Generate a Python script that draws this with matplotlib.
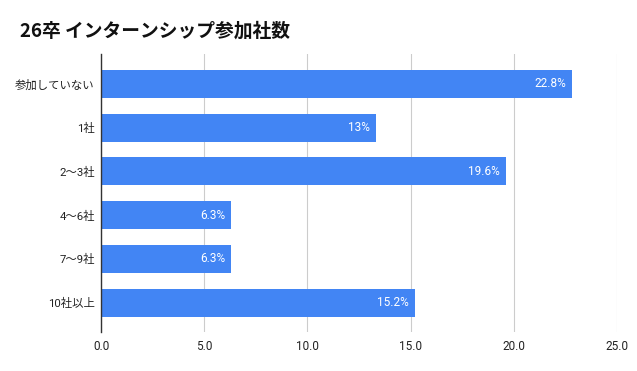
import matplotlib
matplotlib.use("Agg")
import matplotlib.pyplot as plt

plt.rcParams['font.family'] = ['Roboto', 'Noto Sans CJK JP', 'DejaVu Sans']

title = "26卒 インターンシップ参加社数"
categories = ["参加していない", "1社", "2〜3社", "4〜6社", "7〜9社", "10社以上"]
values = [22.8, 13.3, 19.6, 6.3, 6.3, 15.2]
value_labels = ["22.8%", "13%", "19.6%", "6.3%", "6.3%", "15.2%"]
xticks = [0, 5, 10, 15, 20, 25]
xtick_labels = ["0.0", "5.0", "10.0", "15.0", "20.0", "25.0"]

fig = plt.figure(figsize=(6.37, 3.71), dpi=100)
ax = fig.add_axes([101/637, 1-332/371, 516/637, 278/371])

ypos = list(range(len(categories)))
bars = ax.barh(ypos, values, height=0.64, color="#4285F4", zorder=3)
ax.set_ylim(len(categories) - 1 + 0.67, -0.68)
ax.set_xlim(0, 25)
ax.set_yticks(ypos)
ax.set_yticklabels(categories, fontsize=8.2, color="#222222")
ax.set_xticks(xticks)
ax.set_xticklabels(xtick_labels, fontsize=8.5, color="#222222")
ax.tick_params(axis='y', length=0, pad=4.5)
ax.tick_params(axis='x', length=0, pad=6)
ax.grid(axis='x', color="#cccccc", linewidth=0.8, zorder=0)
for s in ["top", "right", "bottom"]:
    ax.spines[s].set_visible(False)
ax.spines["left"].set_color("#333333")
ax.spines["left"].set_linewidth(1.0)
ax.spines["left"].set_zorder(4)

ax.bar_label(bars, labels=value_labels, padding=-4, color="white", fontsize=8.5, label_type="edge")
for t in ax.texts:
    t.set_horizontalalignment("right")

fig.text(20/637, 1-31/371, title, fontsize=13.5, fontweight="bold", color="#111111",
         va="center", ha="left", family=['Noto Sans CJK JP', 'DejaVu Sans'])

fig.savefig("out.png", dpi=100)
